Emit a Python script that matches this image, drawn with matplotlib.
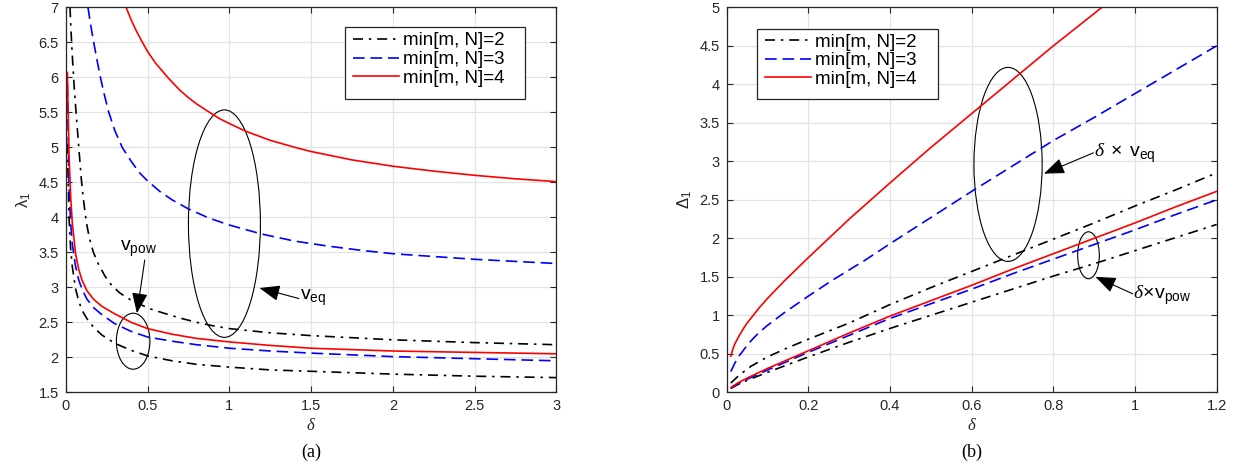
import matplotlib
matplotlib.use("Agg")
import matplotlib.pyplot as plt
from matplotlib.patches import Ellipse, Rectangle

plt.rcParams['font.family'] = ['Liberation Sans', 'DejaVu Sans']
plt.rcParams['mathtext.fontset'] = 'custom'
plt.rcParams['mathtext.rm'] = 'Liberation Sans'
plt.rcParams['mathtext.it'] = 'Liberation Serif:italic'
plt.rcParams['mathtext.bf'] = 'Liberation Sans:bold'

# ---- (a) lambda_1 vs delta ----
# v_pow curves (lower group)
d_pow_a = [0.01, 0.02, 0.03, 0.04, 0.06, 0.08, 0.1, 0.13, 0.17, 0.22, 0.3,
           0.4, 0.5, 0.65, 0.8, 1.0, 1.25, 1.5, 2.0, 2.5, 3.0]
lam_pow_2 = [5.05, 4.0, 3.55, 3.30, 2.98, 2.80, 2.67, 2.55, 2.43, 2.32, 2.20,
             2.10, 2.02, 1.95, 1.90, 1.86, 1.82, 1.80, 1.76, 1.73, 1.71]
lam_pow_3 = [5.90, 4.45, 3.92, 3.62, 3.30, 3.10, 2.97, 2.83, 2.71, 2.61, 2.48,
             2.37, 2.29, 2.23, 2.18, 2.13, 2.09, 2.06, 2.01, 1.98, 1.95]
lam_pow_4 = [6.07, 4.90, 4.30, 3.92, 3.48, 3.25, 3.10, 2.95, 2.83, 2.73, 2.62,
             2.50, 2.41, 2.33, 2.27, 2.22, 2.17, 2.13, 2.09, 2.07, 2.05]

# v_eq curves (upper group), they leave the top of the axes
d_eq_2 = [0.026, 0.032, 0.0385, 0.045, 0.052, 0.063, 0.079, 0.095, 0.105, 0.118,
          0.13, 0.145, 0.169, 0.2, 0.24, 0.28, 0.33, 0.39, 0.45, 0.52, 0.6,
          0.7, 0.8, 0.9, 1.0, 1.25, 1.5, 2.0, 2.5, 3.0]
lam_eq_2 = [7.0, 6.68, 6.38, 6.12, 5.86, 5.5, 5.02, 4.55, 4.32, 4.07,
            3.88, 3.70, 3.50, 3.33, 3.16, 3.03, 2.92, 2.83, 2.76, 2.69, 2.63,
            2.56, 2.50, 2.45, 2.41, 2.35, 2.31, 2.25, 2.21, 2.18]
d_eq_3 = [0.136, 0.15, 0.171, 0.19, 0.212, 0.235, 0.263, 0.3, 0.345, 0.4, 0.45,
          0.5, 0.575, 0.65, 0.75, 0.875, 1.0, 1.2, 1.4, 1.6, 1.8, 2.0, 2.25,
          2.5, 2.75, 3.0]
lam_eq_3 = [7.0, 6.78, 6.5, 6.26, 6.0, 5.76, 5.5, 5.24, 5.0, 4.8, 4.64,
            4.52, 4.37, 4.25, 4.12, 3.99, 3.89, 3.76, 3.66, 3.59, 3.53, 3.48, 3.44,
            3.40, 3.37, 3.34]
d_eq_4 = [0.369, 0.4, 0.43, 0.464, 0.5, 0.55, 0.627, 0.7, 0.75, 0.8, 0.872, 0.94,
          1.0, 1.1, 1.25, 1.4, 1.5, 1.75, 2.0, 2.25, 2.5, 2.75, 3.0]
lam_eq_4 = [7.0, 6.82, 6.67, 6.52, 6.37, 6.20, 5.99, 5.81, 5.71, 5.62, 5.51, 5.41,
            5.34, 5.23, 5.10, 5.00, 4.94, 4.82, 4.73, 4.66, 4.60, 4.55, 4.51]

# ---- (b) Delta_1 vs delta ----
d_b = [0.01, 0.025, 0.05, 0.1, 0.2, 0.3, 0.4, 0.5, 0.6, 0.7, 0.8, 0.9, 1.0, 1.1, 1.2]
dl_pow_2 = [0.05, 0.095, 0.155, 0.26, 0.46, 0.65, 0.83, 1.00, 1.17, 1.34, 1.51, 1.67, 1.84, 2.01, 2.18]
dl_pow_3 = [0.055, 0.105, 0.17, 0.29, 0.52, 0.74, 0.96, 1.15, 1.34, 1.54, 1.73, 1.92, 2.11, 2.31, 2.50]
dl_pow_4 = [0.06, 0.115, 0.185, 0.31, 0.54, 0.77, 0.99, 1.19, 1.39, 1.60, 1.80, 2.00, 2.20, 2.41, 2.61]

d_beq_2 = [0.01, 0.02, 0.03, 0.045, 0.06, 0.08, 0.1, 0.15, 0.2, 0.3, 0.4, 0.5,
           0.6, 0.7, 0.8, 0.9, 1.0, 1.1, 1.2]
dl_eq_2 = [0.12, 0.17, 0.22, 0.28, 0.34, 0.40, 0.46, 0.58, 0.69, 0.90, 1.14, 1.36,
           1.57, 1.78, 1.99, 2.20, 2.42, 2.63, 2.85]
d_beq_3 = [0.01, 0.02, 0.03, 0.04, 0.05, 0.065, 0.08, 0.1, 0.14, 0.2, 0.26, 0.34,
           0.4, 0.5, 0.6, 0.7, 0.8, 0.9, 1.0, 1.1, 1.2]
dl_eq_3 = [0.27, 0.38, 0.47, 0.54, 0.61, 0.70, 0.78, 0.87, 1.03, 1.25, 1.46, 1.72,
           1.93, 2.27, 2.61, 2.94, 3.27, 3.57, 3.88, 4.19, 4.50]
d_beq_4 = [0.01, 0.015, 0.02, 0.03, 0.04, 0.05, 0.065, 0.08, 0.1, 0.14, 0.2, 0.26,
           0.3, 0.4, 0.5, 0.6, 0.7, 0.8, 0.919]
dl_eq_4 = [0.47, 0.56, 0.63, 0.73, 0.82, 0.90, 1.00, 1.10, 1.22, 1.44, 1.75, 2.05,
           2.25, 2.72, 3.18, 3.62, 4.06, 4.50, 5.0]

labels = ['min[m, N]=2', 'min[m, N]=3', 'min[m, N]=4']
dd = (6, 3.5, 1.5, 3.5)
da = (7, 3.5)
lw = 1.2
tick_col = '#262626'
arrow_kw = dict(arrowstyle='-|>,head_length=0.9,head_width=0.35', color='k',
                lw=0.8, mutation_scale=14, shrinkA=0, shrinkB=0)

fig = plt.figure(figsize=(12.38, 4.70), dpi=100)
ax1 = fig.add_axes([0.0531, 0.1653, 0.3964, 0.8191])
ax2 = fig.add_axes([0.5870, 0.1653, 0.3958, 0.8191])

# (a)
l2, = ax1.plot(d_pow_a, lam_pow_2, color='k', lw=lw, dashes=dd)
l3, = ax1.plot(d_pow_a, lam_pow_3, color='#0000ff', lw=lw, dashes=da)
l4, = ax1.plot(d_pow_a, lam_pow_4, color='#ff0000', lw=lw)
ax1.plot(d_eq_2, lam_eq_2, color='k', lw=lw, dashes=dd)
ax1.plot(d_eq_3, lam_eq_3, color='#0000ff', lw=lw, dashes=da)
ax1.plot(d_eq_4, lam_eq_4, color='#ff0000', lw=lw)
ax1.set_xlim(0, 3)
ax1.set_ylim(1.5, 7)
ax1.set_xticks([0, 0.5, 1, 1.5, 2, 2.5, 3])
ax1.set_xticklabels(['0', '0.5', '1', '1.5', '2', '2.5', '3'])
ax1.set_yticks([1.5, 2, 2.5, 3, 3.5, 4, 4.5, 5, 5.5, 6, 6.5, 7])
ax1.set_yticklabels(['1.5', '2', '2.5', '3', '3.5', '4', '4.5', '5', '5.5', '6', '6.5', '7'])
ax1.set_ylabel(r'$\mathregular{\lambda_1}$', fontsize=12, color=tick_col, labelpad=4)

ax1.add_patch(Ellipse((0.97, 3.91), 0.44, 3.25, fill=False, ec='k', lw=0.8))
ax1.add_patch(Ellipse((0.412, 2.23), 0.205, 0.80, fill=False, ec='k', lw=0.8))
ax1.annotate('', xy=(1.184, 2.99), xytext=(1.425, 2.84), arrowprops=arrow_kw)
ax1.text(1.43, 2.85, r'$\mathregular{v_{eq}}$', fontsize=14, ha='left', va='center')
ax1.annotate('', xy=(0.435, 2.63), xytext=(0.483, 3.39), arrowprops=arrow_kw)
ax1.text(0.33, 3.55, r'$\mathregular{v_{pow}}$', fontsize=14, ha='left', va='center')

# (b)
ax2.plot(d_b, dl_pow_2, color='k', lw=lw, dashes=dd)
ax2.plot(d_b, dl_pow_3, color='#0000ff', lw=lw, dashes=da)
ax2.plot(d_b, dl_pow_4, color='#ff0000', lw=lw)
ax2.plot(d_beq_2, dl_eq_2, color='k', lw=lw, dashes=dd)
ax2.plot(d_beq_3, dl_eq_3, color='#0000ff', lw=lw, dashes=da)
ax2.plot(d_beq_4, dl_eq_4, color='#ff0000', lw=lw)
ax2.set_xlim(0, 1.2)
ax2.set_ylim(0, 5)
ax2.set_xticks([0, 0.2, 0.4, 0.6, 0.8, 1, 1.2])
ax2.set_xticklabels(['0', '0.2', '0.4', '0.6', '0.8', '1', '1.2'])
ax2.set_yticks([0, 0.5, 1, 1.5, 2, 2.5, 3, 3.5, 4, 4.5, 5])
ax2.set_yticklabels(['0', '0.5', '1', '1.5', '2', '2.5', '3', '3.5', '4', '4.5', '5'])
ax2.set_ylabel(r'$\mathregular{\Delta_1}$', fontsize=12, color=tick_col, labelpad=4)

ax2.add_patch(Ellipse((0.689, 2.96), 0.167, 2.52, fill=False, ec='k', lw=0.8))
ax2.add_patch(Ellipse((0.886, 1.78), 0.053, 0.61, fill=False, ec='k', lw=0.8))
ax2.annotate('', xy=(0.777, 2.84), xytext=(0.898, 3.11), arrowprops=arrow_kw)
ax2.text(0.9, 3.1, r'$\delta\ \times\ \mathregular{v_{eq}}$', fontsize=14, ha='left', va='center')
ax2.annotate('', xy=(0.903, 1.50), xytext=(0.994, 1.28), arrowprops=arrow_kw)
ax2.text(0.995, 1.26, r'$\delta\!\times\!\mathregular{v_{pow}}$', fontsize=14, ha='left', va='center')

for ax in (ax1, ax2):
    ax.set_xlabel(r'$\delta$', fontsize=12, color=tick_col, labelpad=3)
    ax.grid(True, color='#e3e3e3', lw=0.9)
    ax.set_axisbelow(True)
    ax.tick_params(direction='in', top=True, right=True, length=4, width=0.8,
                   labelsize=10.5, labelcolor=tick_col, color=tick_col, pad=5)
    for s in ax.spines.values():
        s.set_color(tick_col)
        s.set_linewidth(0.9)

# legend frames drawn as boxes, legend text without its own frame
ax1.add_patch(Rectangle((0.569, 0.762), 0.367, 0.186, transform=ax1.transAxes,
                        fc='white', ec=tick_col, lw=0.9, zorder=4))
ax2.add_patch(Rectangle((0.0627, 0.761), 0.368, 0.184, transform=ax2.transAxes,
                        fc='white', ec=tick_col, lw=0.9, zorder=4))
leg_kw = dict(loc='upper left', fontsize=13.5, frameon=False, borderaxespad=0,
              borderpad=0, handlelength=2.45, handletextpad=0.22, labelspacing=0.08)
lg1 = ax1.legend([l2, l3, l4], labels, bbox_to_anchor=(0.585, 0.935), **leg_kw)
lg2 = ax2.legend([l2, l3, l4], labels, bbox_to_anchor=(0.079, 0.932), **leg_kw)
lg1.set_zorder(5)
lg2.set_zorder(5)

fig.text(0.2513, 0.037, '(a)', fontsize=13, family='Liberation Serif', ha='center', va='center')
fig.text(0.785, 0.037, '(b)', fontsize=13, family='Liberation Serif', ha='center', va='center')

fig.savefig('out.png', dpi=100)
